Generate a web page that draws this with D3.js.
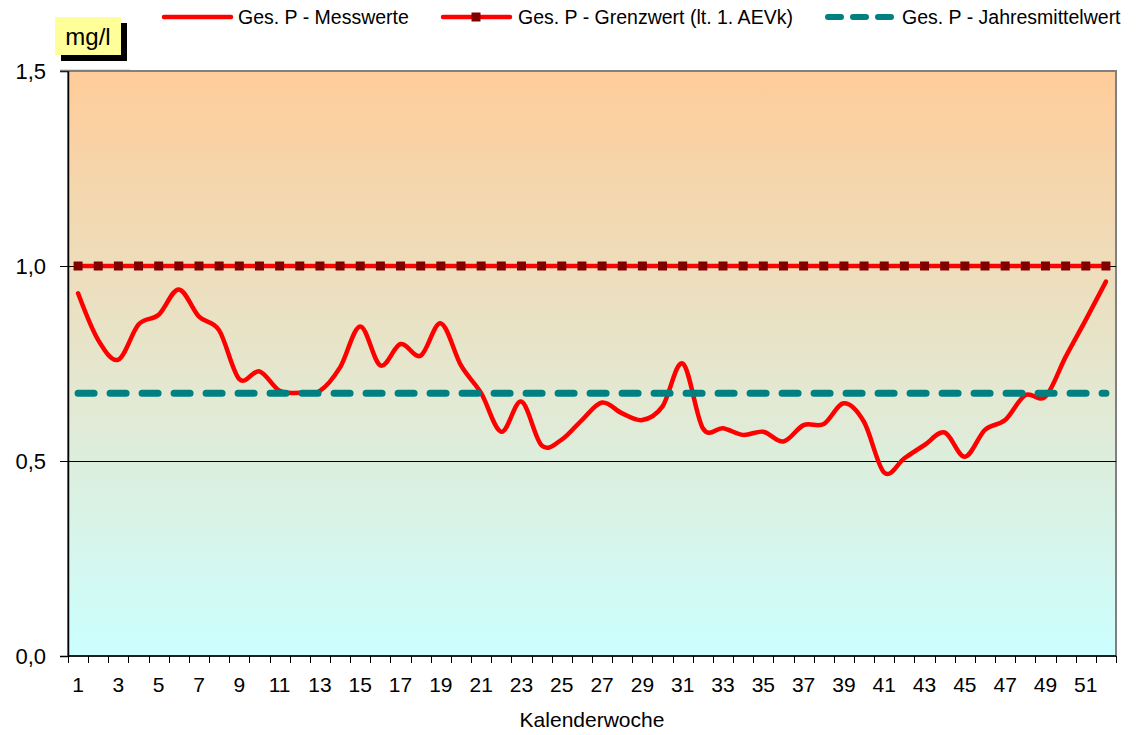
<!DOCTYPE html>
<html>
<head>
<meta charset="utf-8">
<script src="https://cdn.jsdelivr.net/npm/d3@7"></script>
<style>
  body { margin: 0; background: #fff; }
  svg { display: block; font-family: "Liberation Sans", Arial, sans-serif; }
</style>
</head>
<body>
<div id="chart"></div>
<script>
// Kalenderwochen 1..52
const weeks = d3.range(1, 53);

const messwerte = [0.93, 0.81, 0.76, 0.85, 0.875, 0.94, 0.87, 0.835, 0.71, 0.73,
                   0.68, 0.675, 0.68, 0.74, 0.845, 0.745, 0.80, 0.77, 0.853, 0.745,
                   0.674, 0.575, 0.652, 0.54, 0.555, 0.605, 0.65, 0.622, 0.605, 0.64,
                   0.75, 0.584, 0.584, 0.567, 0.575, 0.55, 0.592, 0.595, 0.648, 0.60,
                   0.47, 0.507, 0.541, 0.573, 0.511, 0.58, 0.605, 0.669, 0.665, 0.767,
                   0.862, 0.96];

// Grenzwert (lt. 1. AEVk) and Jahresmittelwert
const grenzwert = 1.0;
const jahresmittel = 0.674;

const yTicks = [0, 0.5, 1.0, 1.5];
const legendLabels = ["Ges. P - Messwerte", "Ges. P - Grenzwert (lt. 1. AEVk)", "Ges. P - Jahresmittelwert"];

const W = 1140, H = 735;
const plot = {left: 68, right: 1116, top: 71, bottom: 656};

const svg = d3.select("#chart").append("svg")
    .attr("width", W)
    .attr("height", H);

const defs = svg.append("defs");
const grad = defs.append("linearGradient")
    .attr("id", "bg")
    .attr("x1", 0).attr("y1", 0).attr("x2", 0).attr("y2", 1);
grad.append("stop").attr("offset", "0%").attr("stop-color", "#FFCC99");
grad.append("stop").attr("offset", "100%").attr("stop-color", "#CCFFFF");

const x = d3.scaleBand()
    .domain(weeks)
    .range([plot.left, plot.right]);
const cx = d => x(d) + x.bandwidth() / 2;

const y = d3.scaleLinear()
    .domain([0, 1.5])
    .range([plot.bottom, plot.top]);

// plot area
svg.append("rect")
    .attr("x", plot.left)
    .attr("y", plot.top)
    .attr("width", plot.right - plot.left)
    .attr("height", plot.bottom - plot.top)
    .attr("fill", "url(#bg)")
    .attr("stroke", "#808080")
    .attr("stroke-width", 2);

// gridlines
svg.append("g")
    .selectAll("line")
    .data(yTicks.filter(d => d > 0 && d < 1.5))
    .join("line")
    .attr("x1", plot.left)
    .attr("x2", plot.right)
    .attr("y1", d => Math.round(y(d)) + 0.5)
    .attr("y2", d => Math.round(y(d)) + 0.5)
    .attr("stroke", "#000")
    .attr("stroke-width", 1);

// y axis
const yAxis = svg.append("g")
    .attr("transform", `translate(${plot.left},0)`)
    .call(d3.axisLeft(y)
        .tickValues(yTicks)
        .tickSize(8)
        .tickPadding(14)
        .tickFormat(d => d3.format(".1f")(d).replace(".", ",")));
yAxis.select(".domain").attr("stroke", "#000").attr("stroke-width", 1.5);
yAxis.selectAll("line").attr("stroke", "#000");
yAxis.selectAll("text")
    .style("font-size", "22px")
    .attr("fill", "#000");

// small grey line next to the 1,5 tick
svg.append("line")
    .attr("x1", 60).attr("x2", 130)
    .attr("y1", plot.top - 0.5).attr("y2", plot.top - 0.5)
    .attr("stroke", "#808080")
    .attr("stroke-width", 1.5);

// x axis: labels at category centres, ticks between categories
const xAxis = svg.append("g")
    .attr("transform", `translate(0,${plot.bottom})`)
    .call(d3.axisBottom(x)
        .tickSize(0)
        .tickPadding(21)
        .tickFormat(d => d % 2 === 1 ? d : ""));
xAxis.select(".domain").remove();
xAxis.selectAll("text")
    .style("font-size", "21px")
    .attr("fill", "#000");

svg.append("line")
    .attr("x1", plot.left).attr("x2", plot.right)
    .attr("y1", plot.bottom).attr("y2", plot.bottom)
    .attr("stroke", "#000")
    .attr("stroke-width", 1.5);

svg.append("g")
    .selectAll("line")
    .data(weeks.map(d => x(d)).concat([plot.right]))
    .join("line")
    .attr("x1", d => Math.round(d) + 0.5)
    .attr("x2", d => Math.round(d) + 0.5)
    .attr("y1", plot.bottom)
    .attr("y2", plot.bottom + 7)
    .attr("stroke", "#000");

svg.append("text")
    .attr("x", (plot.left + plot.right) / 2)
    .attr("y", 727)
    .attr("text-anchor", "middle")
    .style("font-size", "21px")
    .text("Kalenderwoche");

// Messwerte (smoothed)
const line = d3.line()
    .x((d, i) => cx(weeks[i]))
    .y(d => y(d))
    .curve(d3.curveCardinal.tension(0));

svg.append("path")
    .datum(messwerte)
    .attr("d", line)
    .attr("fill", "none")
    .attr("stroke", "#FF0000")
    .attr("stroke-width", 4.5)
    .attr("stroke-linejoin", "round")
    .attr("stroke-linecap", "round");

// Grenzwert line with square markers
svg.append("line")
    .attr("x1", cx(weeks[0]))
    .attr("x2", cx(weeks[weeks.length - 1]))
    .attr("y1", y(grenzwert))
    .attr("y2", y(grenzwert))
    .attr("stroke", "#FF0000")
    .attr("stroke-width", 4.5);

svg.append("g")
    .selectAll("rect")
    .data(weeks)
    .join("rect")
    .attr("x", d => cx(d) - 4.5)
    .attr("y", y(grenzwert) - 4.5)
    .attr("width", 9)
    .attr("height", 9)
    .attr("fill", "#800000");

// Jahresmittelwert dashed
svg.append("line")
    .attr("x1", cx(weeks[0]))
    .attr("x2", cx(weeks[weeks.length - 1]))
    .attr("y1", y(jahresmittel))
    .attr("y2", y(jahresmittel))
    .attr("stroke", "#008080")
    .attr("stroke-width", 7)
    .attr("stroke-linecap", "round")
    .attr("stroke-dasharray", "16,16");

// unit box "mg/l"
svg.append("rect")
    .attr("x", 61).attr("y", 23)
    .attr("width", 66).attr("height", 38)
    .attr("fill", "#000");
svg.append("rect")
    .attr("x", 55).attr("y", 17)
    .attr("width", 66).attr("height", 38)
    .attr("fill", "#FFFF99");
svg.append("text")
    .attr("x", 88).attr("y", 45)
    .attr("text-anchor", "middle")
    .style("font-size", "24px")
    .text("mg/l");

// legend
const legend = svg.append("g");
const ly = 17;

legend.append("line")
    .attr("x1", 164).attr("x2", 231)
    .attr("y1", ly).attr("y2", ly)
    .attr("stroke", "#FF0000").attr("stroke-width", 4.5)
    .attr("stroke-linecap", "round");
legend.append("text")
    .attr("x", 238).attr("y", ly + 7)
    .style("font-size", "19.5px")
    .text(legendLabels[0]);

legend.append("line")
    .attr("x1", 443).attr("x2", 510)
    .attr("y1", ly).attr("y2", ly)
    .attr("stroke", "#FF0000").attr("stroke-width", 4.5)
    .attr("stroke-linecap", "round");
legend.append("rect")
    .attr("x", 476 - 4.5).attr("y", ly - 4.5)
    .attr("width", 9).attr("height", 9)
    .attr("fill", "#800000");
legend.append("text")
    .attr("x", 518).attr("y", ly + 7)
    .style("font-size", "19.5px")
    .text(legendLabels[1]);

legend.append("line")
    .attr("x1", 828).attr("x2", 892)
    .attr("y1", ly).attr("y2", ly)
    .attr("stroke", "#008080").attr("stroke-width", 6)
    .attr("stroke-linecap", "round")
    .attr("stroke-dasharray", "13,12");
legend.append("text")
    .attr("x", 902).attr("y", ly + 7)
    .style("font-size", "19.5px")
    .text(legendLabels[2]);
</script>
</body>
</html>
